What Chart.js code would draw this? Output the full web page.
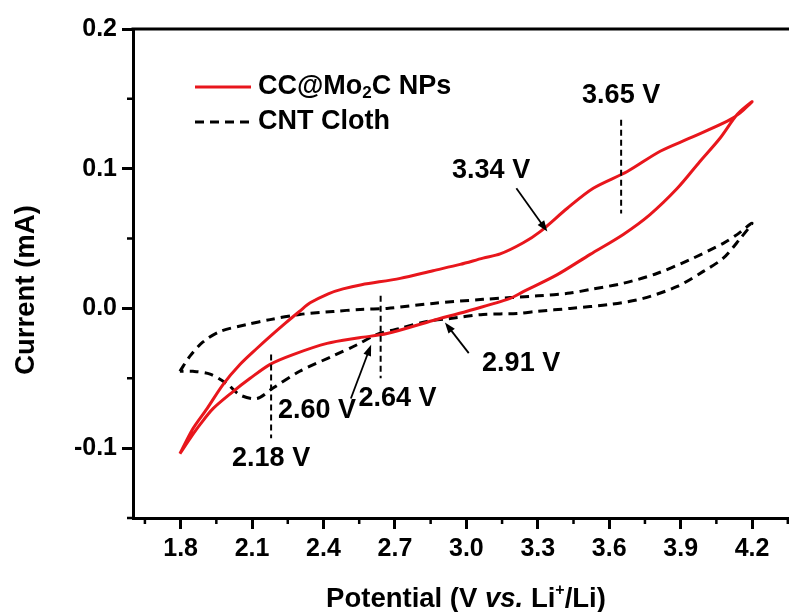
<!DOCTYPE html>
<html>
<head>
<meta charset="utf-8">
<title>CV curves</title>
<script src="https://cdn.jsdelivr.net/npm/chart.js@4.4.1/dist/chart.umd.min.js"></script>
<style>
  html, body { margin: 0; padding: 0; background: #fff; }
  canvas { display: block; }
</style>
</head>
<body>
<canvas id="cvChart" width="789" height="612"></canvas>
<script>
// CC@Mo2C NPs loop: anodic sweep up to 4.2 V, then cathodic sweep back to 1.8 V
const moPotential = [1.797, 1.852, 1.911, 1.978, 2.05, 2.121, 2.176, 2.24, 2.30, 2.344, 2.42, 2.482, 2.56, 2.722, 2.86, 2.974, 3.07, 3.142, 3.239, 3.31,
  3.424, 3.533, 3.676, 3.814, 3.94, 4.096, 4.15, 4.20,
  4.138, 4.066, 3.98, 3.886, 3.77, 3.659, 3.52, 3.38, 3.239, 3.184, 3.003, 2.86, 2.667, 2.55, 2.415, 2.272, 2.176, 2.092, 2.02, 1.936, 1.882, 1.84, 1.797];
const moCurrent = [-0.104, -0.086, -0.0717, -0.0545, -0.040, -0.0285, -0.020, -0.0105, -0.002, 0.004, 0.0105, 0.014, 0.017, 0.0215, 0.027, 0.0315, 0.036, 0.039, 0.047, 0.055,
  0.0717, 0.086, 0.098, 0.1125, 0.122, 0.134, 0.140, 0.148,
  0.139, 0.122, 0.105, 0.086, 0.067, 0.053, 0.0387, 0.024, 0.012, 0.0072, -0.002, -0.0086, -0.018, -0.021, -0.025, -0.033, -0.040, -0.050, -0.0595, -0.0717, -0.083, -0.093, -0.104];

// CNT cloth loop
const cntPotential = [1.797, 1.84, 1.894, 1.966, 2.079, 2.176, 2.30, 2.44, 2.554, 2.667, 2.86, 3.07, 3.30, 3.436, 3.52, 3.659, 3.80, 3.94, 4.079, 4.138, 4.20,
  4.15, 4.079, 3.995, 3.886, 3.743, 3.604, 3.436, 3.30, 3.213, 3.07, 2.932, 2.835, 2.722, 2.625, 2.541, 2.44, 2.30, 2.188, 2.121, 2.05, 1.995, 1.924, 1.852, 1.797];
const cntCurrent = [-0.045, -0.034, -0.024, -0.0165, -0.0115, -0.008, -0.0043, -0.0022, -0.0007, 0.0, 0.0036, 0.0065, 0.009, 0.011, 0.0136, 0.018, 0.025, 0.035, 0.0466, 0.053, 0.061,
  0.050, 0.036, 0.0265, 0.0158, 0.0072, 0.0029, 0.0, -0.002, -0.0036, -0.0043, -0.0072, -0.0093, -0.0143, -0.0186, -0.026, -0.034, -0.045, -0.057, -0.0645, -0.062, -0.054, -0.047, -0.045, -0.045];

const xTicks = [1.8, 2.1, 2.4, 2.7, 3.0, 3.3, 3.6, 3.9, 4.2];
const xMinorTicks = [1.65, 1.95, 2.25, 2.55, 2.85, 3.15, 3.45, 3.75, 4.05, 4.35];
const yTicks = [-0.1, 0.0, 0.1, 0.2];
const yMinorTicks = [-0.15, -0.05, 0.05, 0.15];

// peak potentials marked with short dashed guides (top / bottom current of each guide)
const peakVolts = [2.18, 2.64, 3.65];
const peakTop = [-0.033, 0.009, 0.135];
const peakBottom = [-0.093, -0.050, 0.068];

// peak potentials pointed at with arrows (tip current, arrow tail)
const arrowVolts = [3.34, 2.60, 2.91];
const arrowCurrent = [0.055, -0.026, -0.010];
const arrowTailVolts = [3.21, 2.515, 3.01];
const arrowTailCurrent = [0.086, -0.0645, -0.032];

const toPoints = (xs, ys) => xs.map((x, i) => ({ x: x, y: ys[i] }));
const FONT = "'Liberation Sans', Arial, sans-serif";

// labels next to the guides and arrows, anchored in data coordinates
const notes = [
  { text: peakVolts[2].toFixed(2) + ' V', x: peakVolts[2], y: 0.1527 },
  { text: peakVolts[0].toFixed(2) + ' V', x: peakVolts[0], y: -0.1075 },
  { text: peakVolts[1].toFixed(2) + ' V', x: peakVolts[1] + 0.071, y: -0.0645 },
  { text: arrowVolts[0].toFixed(2) + ' V', x: 3.104, y: 0.0989 },
  { text: arrowVolts[1].toFixed(2) + ' V', x: 2.373, y: -0.0731 },
  { text: arrowVolts[2].toFixed(2) + ' V', x: 3.23, y: -0.0394 }
];

function runs(ctx, parts, x, y) {
  let total = 0;
  parts.forEach(p => { ctx.font = p.font; p.w = ctx.measureText(p.text).width; total += p.w; });
  let cx = x - total / 2;
  parts.forEach(p => {
    ctx.font = p.font;
    ctx.fillText(p.text, cx, y + (p.dy || 0));
    cx += p.w;
  });
}

const decorations = {
  id: 'decorations',
  afterDraw(chart) {
    const ctx = chart.ctx;
    const area = chart.chartArea;
    const xs = chart.scales.x, ys = chart.scales.y;
    ctx.save();
    ctx.strokeStyle = '#000';
    ctx.fillStyle = '#000';

    // top frame line
    ctx.lineWidth = 3;
    ctx.beginPath();
    ctx.moveTo(area.left - 1.5, area.top);
    ctx.lineTo(chart.width, area.top);
    ctx.stroke();

    // minor ticks
    ctx.lineWidth = 2.5;
    ctx.beginPath();
    xMinorTicks.forEach(v => {
      const px = xs.getPixelForValue(v);
      ctx.moveTo(px, area.bottom);
      ctx.lineTo(px, area.bottom + 6);
    });
    yMinorTicks.forEach(v => {
      const py = ys.getPixelForValue(v);
      ctx.moveTo(area.left, py);
      ctx.lineTo(area.left - 6, py);
    });
    ctx.stroke();

    // dashed peak guides
    ctx.lineWidth = 2;
    ctx.setLineDash([6, 4]);
    peakVolts.forEach((v, i) => {
      const px = xs.getPixelForValue(v);
      ctx.beginPath();
      ctx.moveTo(px, ys.getPixelForValue(peakTop[i]));
      ctx.lineTo(px, ys.getPixelForValue(peakBottom[i]));
      ctx.stroke();
    });
    ctx.setLineDash([]);

    // arrows
    arrowVolts.forEach((v, i) => {
      const x1 = xs.getPixelForValue(arrowTailVolts[i]), y1 = ys.getPixelForValue(arrowTailCurrent[i]);
      const x2 = xs.getPixelForValue(v), y2 = ys.getPixelForValue(arrowCurrent[i]);
      const a = Math.atan2(y2 - y1, x2 - x1);
      const head = 11, half = 4;
      ctx.lineWidth = 1.8;
      ctx.beginPath();
      ctx.moveTo(x1, y1);
      ctx.lineTo(x2 - Math.cos(a) * head * 0.8, y2 - Math.sin(a) * head * 0.8);
      ctx.stroke();
      ctx.beginPath();
      ctx.moveTo(x2, y2);
      ctx.lineTo(x2 - Math.cos(a) * head - Math.sin(a) * half, y2 - Math.sin(a) * head + Math.cos(a) * half);
      ctx.lineTo(x2 - Math.cos(a) * head + Math.sin(a) * half, y2 - Math.sin(a) * head - Math.cos(a) * half);
      ctx.closePath();
      ctx.fill();
    });

    // value labels
    ctx.font = 'bold 27px ' + FONT;
    ctx.textAlign = 'center';
    ctx.textBaseline = 'middle';
    notes.forEach(n => ctx.fillText(n.text, xs.getPixelForValue(n.x), ys.getPixelForValue(n.y)));

    // legend
    const sets = chart.data.datasets;
    ctx.textAlign = 'left';
    ctx.textBaseline = 'middle';
    sets.forEach((ds, i) => {
      const ly = area.top + 58 + i * 35;
      ctx.strokeStyle = ds.borderColor;
      ctx.lineWidth = 3;
      ctx.setLineDash(ds.borderDash || []);
      ctx.beginPath();
      ctx.moveTo(area.left + 62, ly);
      ctx.lineTo(area.left + 118, ly);
      ctx.stroke();
      ctx.setLineDash([]);
    });
    ctx.fillStyle = '#000';
    let lx = area.left + 125;
    const ly0 = area.top + 58;
    [['CC@Mo', 27, 0], ['2', 17, 6], ['C NPs', 27, 0]].forEach(p => {
      ctx.font = 'bold ' + p[1] + 'px ' + FONT;
      ctx.fillText(p[0], lx, ly0 + p[2]);
      lx += ctx.measureText(p[0]).width;
    });
    ctx.font = 'bold 27px ' + FONT;
    ctx.fillText(sets[1].label, area.left + 125, area.top + 93);

    // axis titles
    ctx.textBaseline = 'alphabetic';
    ctx.textAlign = 'left';
    runs(ctx, [
      { text: 'Potential (V ', font: 'bold 27.5px ' + FONT },
      { text: 'vs.', font: 'italic bold 27.5px ' + FONT },
      { text: ' Li', font: 'bold 27.5px ' + FONT },
      { text: '+', font: 'bold 16px ' + FONT, dy: -12 },
      { text: '/Li)', font: 'bold 27.5px ' + FONT }
    ], 466, 607);

    ctx.translate(34, 290);
    ctx.rotate(-Math.PI / 2);
    ctx.textAlign = 'center';
    ctx.font = 'bold 27.5px ' + FONT;
    ctx.fillText('Current (mA)', 0, 0);
    ctx.restore();
  }
};

const tickFont = { family: FONT, size: 25, weight: 'bold' };

new Chart(document.getElementById('cvChart'), {
  type: 'scatter',
  data: {
    datasets: [
      {
        label: 'CC@Mo2C NPs',
        data: toPoints(moPotential, moCurrent),
        showLine: true,
        borderColor: '#e8161c',
        borderWidth: 3,
        pointRadius: 0,
        tension: 0.3,
        fill: false
      },
      {
        label: 'CNT Cloth',
        data: toPoints(cntPotential, cntCurrent),
        showLine: true,
        borderColor: '#000',
        borderWidth: 3,
        borderDash: [9, 6],
        pointRadius: 0,
        tension: 0.3,
        fill: false
      }
    ]
  },
  options: {
    responsive: false,
    animation: false,
    devicePixelRatio: 1,
    layout: { padding: { top: 29, right: 0, left: 0, bottom: 0 } },
    plugins: { legend: { display: false }, tooltip: { enabled: false } },
    scales: {
      x: {
        type: 'linear',
        min: 1.6,
        max: 4.355,
        afterBuildTicks: s => { s.ticks = xTicks.map(v => ({ value: v })); },
        afterFit: s => { s.height = 94; },
        ticks: { font: tickFont, color: '#000', padding: 5, maxRotation: 0, callback: v => v.toFixed(1) },
        grid: { drawOnChartArea: false, drawTicks: true, tickLength: 11, tickWidth: 3, tickColor: '#000' },
        border: { display: true, width: 3, color: '#000' }
      },
      y: {
        type: 'linear',
        min: -0.15,
        max: 0.2,
        afterBuildTicks: s => { s.ticks = yTicks.map(v => ({ value: v })); },
        afterFit: s => { s.width = 133; },
        ticks: { font: tickFont, color: '#000', padding: 5, callback: v => v.toFixed(1) },
        grid: { drawOnChartArea: false, drawTicks: true, tickLength: 11, tickWidth: 3, tickColor: '#000' },
        border: { display: true, width: 3, color: '#000' }
      }
    }
  },
  plugins: [decorations]
});
</script>
</body>
</html>
